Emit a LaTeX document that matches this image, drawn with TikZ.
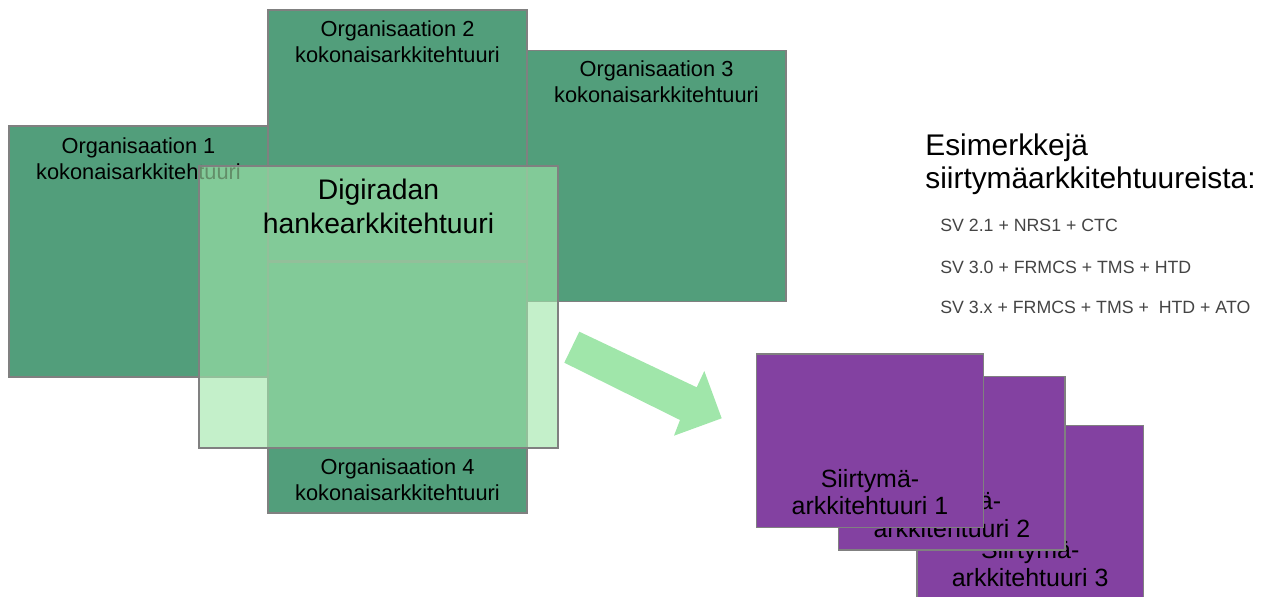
\documentclass[tikz,border=0pt]{standalone}
\usepackage{fontspec}
\setmainfont{Liberation Sans}
\usetikzlibrary{positioning}

\definecolor{orggreen}{RGB}{82,158,123}
\definecolor{lightgreen}{RGB}{160,230,170}
\definecolor{siirtopurple}{RGB}{131,65,161}
\definecolor{boxgray}{RGB}{128,128,128}
\definecolor{textgray}{RGB}{68,68,68}

\tikzset{
  orgbox/.style={draw=boxgray, fill=orggreen, line width=0.8pt, minimum width=5.18cm, minimum height=5.02cm, inner sep=0pt},
  orgtext/.style={align=center, inner sep=0pt, font=\fontsize{12.4}{14.7}\selectfont},
  digibox/.style={draw=boxgray, fill=lightgreen, fill opacity=0.62, line width=0.8pt, minimum width=7.18cm, minimum height=5.64cm, inner sep=0pt},
  siirtobox/.style={draw=boxgray, fill=siirtopurple, line width=0.8pt, minimum width=4.53cm, minimum height=3.47cm, inner sep=0pt},
  siirtotext/.style={align=center, inner sep=0pt, font=\fontsize{14.2}{15.6}\selectfont},
  svtext/.style={anchor=base west, inner sep=0pt, text=textgray, font=\fontsize{10.1}{12}\selectfont}
}

\begin{document}
\begin{tikzpicture}[x=0.02cm,y=-0.02cm]
  \useasboundingbox (0,0) rectangle (1262,597);

  % organisaatioiden kokonaisarkkitehtuurit
  \node[orgbox] (org1) at (138.5,251.5) {};
  \node[orgbox] (org2) at (397.5,135.5) {};
  \node[orgbox] (org3) at (656.5,176) {};
  \node[orgbox] (org4) at (397.5,387.5) {};
  \node[orgtext, below=0.25cm of org1.north] (org1t) {Organisaation 1\\kokonaisarkkitehtuuri};
  \node[orgtext, below=0.22cm of org2.north] (org2t) {Organisaation 2\\kokonaisarkkitehtuuri};
  \node[orgtext, below=0.22cm of org3.north] (org3t) {Organisaation 3\\kokonaisarkkitehtuuri};
  \node[orgtext, above=0.26cm of org4.south] (org4t) {Organisaation 4\\kokonaisarkkitehtuuri};

  % hankearkkitehtuuri
  \node[digibox] (digi) at (378.5,307) {};
  \node[align=center, inner sep=0pt, font=\fontsize{16.1}{19.6}\selectfont, below=0.26cm of digi.north] (digit) {Digiradan\\hankearkkitehtuuri};

  % nuoli
  \fill[lightgreen] (579.3,331.7) -- (696.7,387.3) -- (704.3,371) -- (721.7,418.3) -- (674,435.7) -- (680,420) -- (564.3,362.7) -- cycle;

  % siirtymaarkkitehtuurit
  \node[siirtobox] (siirto3) at (1030.2,512.5) {};
  \node[siirtotext, above=0.26cm of siirto3.south] (siirto3t) {Siirtymä-\\arkkitehtuuri 3};
  \node[siirtobox] (siirto2) at (951.9,463.3) {};
  \node[siirtotext, above=0.26cm of siirto2.south] (siirto2t) {Siirtymä-\\arkkitehtuuri 2};
  \node[siirtobox] (siirto1) at (870,440.8) {};
  \node[siirtotext, above=0.26cm of siirto1.south] (siirto1t) {Siirtymä-\\arkkitehtuuri 1};

  % esimerkit
  \node[anchor=north west, align=left, inner sep=0pt, font=\fontsize{17}{18.4}\selectfont] (esim) at (925,134) {Esimerkkejä\\siirtymäarkkitehtuureista:};
  \node[svtext] (sv1) at (940,232) {SV 2.1 + NRS1 + CTC};
  \node[svtext] (sv2) at (940,274) {SV 3.0 + FRMCS + TMS + HTD};
  \node[svtext] (sv3) at (940,314) {SV 3.x + FRMCS + TMS +\ \ HTD + ATO};
\end{tikzpicture}
\end{document}
